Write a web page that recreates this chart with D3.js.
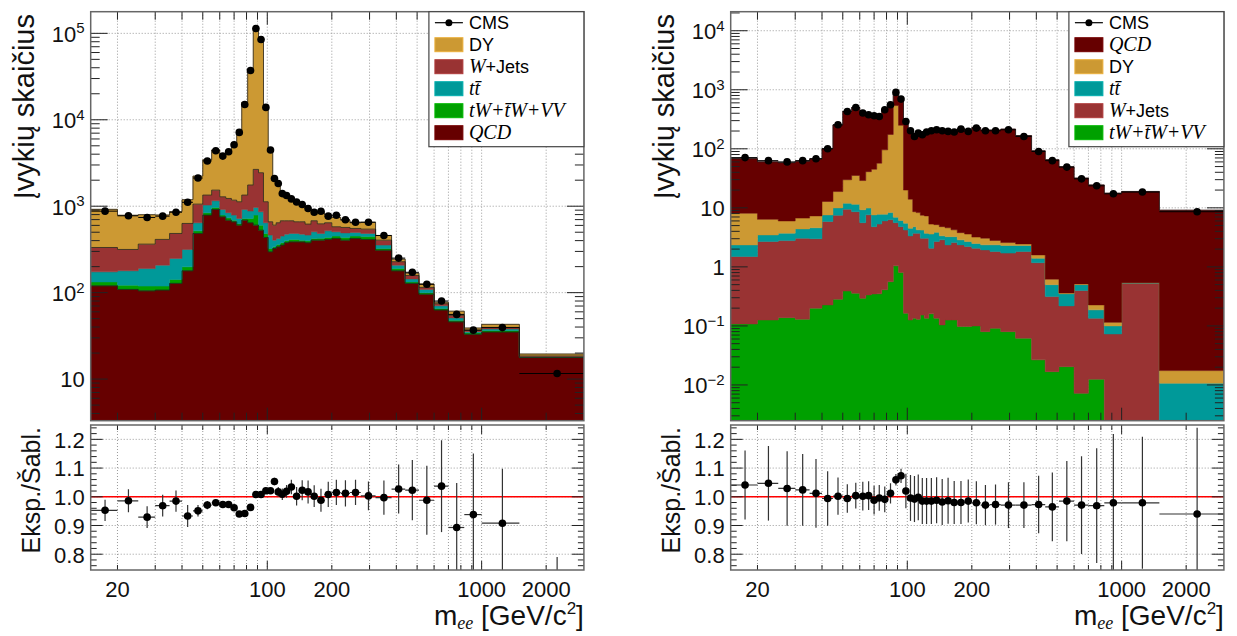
<!DOCTYPE html>
<html>
<head>
<meta charset="utf-8">
<script src="https://cdn.jsdelivr.net/npm/d3@7"></script>
<style>
  body { margin: 0; background: #fff; }
  text { font-family: "Liberation Sans", Arial, sans-serif; }
</style>
</head>
<body>
<div id="graph"></div>
<script>
// bin edges of m_ee [GeV/c^2]
var edges = [15,20,25,30,35,40,45,50,55,60,64,68,72,76,81,86,91,96,101,106,110,115,120,126,133,141,150,160,171,185,200,220,243,273,320,380,440,510,600,700,830,1000,1500,3000];

// ---- left plot
var leftQCD = [120,109,105,107,128,179,484,789,918,754, 690,660,604,690,643,604,528,435,297,324, 339,355,378,387,387,387,378,405,405,413, 424,405,424,413,310,179,128,96,63,46, 33,35,17.8];
var leftTW  = [13,13,14,12,14,20,35,52,50,35, 44,30,28,33,80,185,76,49,27,15, 22,23,20,26,26,18,20,19,20,22, 27,30,27,32,14,11,5,4,2.6,2, 1.3,1.5,0.2];
var leftTT  = [41,57,71,89,107,117,124,189,188,129, 107,99,91,195,156,179,257,159,139,66, 63,73,77,71,71,70,65,82,60,84, 55,56,47,39,31,18,11,9,4.9,3, 1.1,1.5,0.2];
var leftWJ  = [159,137,174,205,235,316,414,315,379,367, 389,386,402,427,879,1699,1576,482,197,199, 219,227,203,194,176,185,158,172,140,124, 72,77,55,59,50,20,14,6,4,3.6, 1.4,1.6,0.3];
var leftDY  = [587,470,434,379,381,558,1173,2095,2945,2620, 3160,4165,6475,14555,36742,110333,81863,12475,3720,1381, 1157,712,627,497,458,360,304,200,220,150, 165,122,90,108,54,16,10,11,3,6.4, 2.2,3.4,1.0];
var leftData = [877,775,741,767,852,1110,2120,3340,4390,3800, 4270,5140,7140,15000,37100,114000,85000,13900,4470,2090, 1830,1400,1330,1215,1120,1045,940,852,875,767, 787,696,653,653,458,251,172,125,80,56, 36.8,39.4,11.6];
var leftRatio = [0.953,0.986,0.929,0.969,0.985,0.933,0.951,0.971,0.979,0.973, 0.973,0.962,0.94,0.942,0.963,1.008,1.008,1.021,1.021,1.053, 1.017,1.009,1.019,1.034,1.002,1.023,1.017,1.002,0.988,1.008, 1.015,1.012,1.015,1.003,0.997,1.027,1.023,0.988,1.037,0.893, 0.938,0.908,0.61];
var leftRatioErr = [0.037,0.04,0.038,0.038,0.037,0.038,0.02,0.014,0.008,0.008, 0.008,0.008,0.008,0.008,0.008,0.006,0.006,0.006,0.006,0.013, 0.017,0.02,0.022,0.025,0.032,0.035,0.04,0.038,0.04,0.044, 0.044,0.046,0.044,0.05,0.06,0.085,0.105,0.12,0.16,0.155, 0.213,0.19,0.18];

// ---- right plot
var rightTW  = [0.108,0.126,0.138,0.13,0.2,0.227,0.283,0.39,0.358,0.294, 0.335,0.348,0.35,0.41,0.56,1.04,0.80,0.164,0.126,0.135, 0.13,0.153,0.135,0.16,0.135,0.104,0.126,0.126,0.098,0.098, 0.1,0.08,0.091,0.08,0.062,0.0266,0.0168,0.0204,0.0072,0.0125, 0,0,0];
var rightWJ  = [1.39,2.56,2.65,2.93,2.8,5.67,7.2,9.1,8.24,5.3, 7.27,4.45,4.95,5.6,5.74,4.56,4.0,4.04,3.22,3.57, 3.57,2.9,2.93,1.91,2.55,2.77,2.23,2.45,2.26,2.11, 1.97,1.86,1.73,1.63,1.76,1.15,0.297,0.198,0.39,0.1225, 0.073,0.53,0];
var rightTT  = [0.86,0.79,0.94,1.34,1.6,1.7,2.5,2.5,2.9,3.7, 2.3,2.8,2.5,1.8,2.0,1.35,1.3,1.3,1.15,1.1, 0.54,1.14,0.64,1.53,1.16,0.48,0.89,0.67,0.51,0.48, 0.43,0.42,0.54,0.59,0.48,0.22,0.186,0.132,0.103,0.052, 0.027,0.005,0.0107];
var rightDY  = [5.74,2.92,2.27,2.3,2.7,5.2,8.9,17.9,23.8,19.7, 31.1,37.4,49.2,88.2,166.7,533,244,14.5,9.5,3.8, 4.06,3.3,3.6,1.7,1.35,1.45,1.35,1.0,0.93,0.91, 0.7,0.7,0.44,0.28,0.15,0.2,0.12,0.01,0.015,0.04, 0.015,0.005,0.0068];
var rightQCD = [60.1,53.8,52.3,54.8,59.9,87.8,235,400,464,373, 334,322,297,366,375,312,398,264,189,154, 176,168,188,200,208,201,195,192,215,196, 226,205,205,213,165,91,64.7,49.3,31.4,24.2, 17.6,18.4,9.1];
var rightData = [71,63,60,63,68,100,255,428,501,403, 377,363,353,458,557,902,695,290,202,162, 184,173,192,202,210,202,197,192,215,197, 224,202,202,210,162,90,63,49,31,23.6, 17.3,18.5,8.6];
var rightRatio = [1.041,1.047,1.029,1.024,1.012,0.994,1.002,0.994,1.004,1.002, 1.004,0.988,0.996,0.991,1.012,1.059,1.073,1.02,0.996,0.992, 0.998,0.985,0.985,0.985,0.988,0.982,0.986,0.98,0.98,0.985, 0.979,0.971,0.973,0.971,0.971,0.973,0.965,0.985,0.971,0.969, 0.979,0.979,0.94];
var rightRatioErr = [0.12,0.13,0.13,0.125,0.12,0.095,0.065,0.05,0.045,0.05, 0.05,0.05,0.045,0.045,0.035,0.02,0.025,0.06,0.08,0.08, 0.08,0.08,0.08,0.08,0.08,0.08,0.08,0.075,0.075,0.075, 0.075,0.07,0.07,0.08,0.08,0.1,0.12,0.14,0.17,0.2, 0.24,0.23,0.3];

var xGrid = [20,30,40,50,60,70,80,90,100,200,300,400,500,600,700,800,900,1000,2000];
var xLabels = [20,100,200,1000,2000];
var ratioTicks = [0.8,0.9,1.0,1.1,1.2];

var colors = { DY: "#cc9933", WJ: "#993333", TT: "#009999", TW: "#00a000", QCD: "#660000" };

var w = 1237, h = 636;
var svg = d3.select("#graph").append("svg")
    .attr("width", w)
    .attr("height", h);

function legendLabel(g, key, x, y) {
  var t = g.append("text").attr("x", x).attr("y", y).attr("font-size", 18).attr("dy", "0.35em");
  var serif = "'Liberation Serif', 'Times New Roman', serif";
  if (key == "CMS") t.text("CMS");
  else if (key == "DY") t.text("DY");
  else if (key == "WJ") {
    t.append("tspan").style("font-family", serif).style("font-style", "italic").attr("font-size", 20).text("W");
    t.append("tspan").text("+Jets");
  } else if (key == "TT") {
    t.append("tspan").style("font-family", serif).style("font-style", "italic").attr("font-size", 20).text("t\u0074\u0304");
  } else if (key == "TW") {
    t.append("tspan").style("font-family", serif).style("font-style", "italic").attr("font-size", 20).text("tW+t\u0304W+VV");
  } else if (key == "QCD") {
    t.append("tspan").style("font-family", serif).style("font-style", "italic").attr("font-size", 20).text("QCD");
  }
}

function drawPanel(cfg, id) {
  var x0 = cfg.x0, x1 = cfg.x1;
  var top0 = 11.7, top1 = 420.7, rat0 = 425, rat1 = 570;

  var x = d3.scaleLog().domain([15, 3000]).range([x0, x1]);
  var y = d3.scaleLog().domain(cfg.yDomain).range([top1, top0]).clamp(true);
  var yr = d3.scaleLinear().domain([0.745, 1.25]).range([rat1, rat0]);
  var yv = function(v) { return v > 0 ? y(v) : top1; };

  var g = svg.append("g");

  // clip paths
  svg.append("clipPath").attr("id", "clipTop" + id)
    .append("rect").attr("x", x0).attr("y", top0).attr("width", x1 - x0).attr("height", top1 - top0);
  svg.append("clipPath").attr("id", "clipRat" + id)
    .append("rect").attr("x", x0).attr("y", rat0).attr("width", x1 - x0).attr("height", rat1 - rat0);

  // grid (under the fills)
  var grid = g.append("g").attr("stroke", "#9a9a9a").attr("stroke-width", 1).attr("stroke-dasharray", "1,2");
  xGrid.forEach(function(v) {
    grid.append("line").attr("x1", x(v)).attr("x2", x(v)).attr("y1", top0).attr("y2", top1);
    grid.append("line").attr("x1", x(v)).attr("x2", x(v)).attr("y1", rat0).attr("y2", rat1);
  });
  var eLo = Math.ceil(Math.log10(cfg.yDomain[0])), eHi = Math.floor(Math.log10(cfg.yDomain[1]));
  for (var e = eLo; e <= eHi; e++) {
    grid.append("line").attr("x1", x0).attr("x2", x1).attr("y1", y(Math.pow(10, e))).attr("y2", y(Math.pow(10, e)));
  }
  ratioTicks.forEach(function(v) {
    grid.append("line").attr("x1", x0).attr("x2", x1).attr("y1", yr(v)).attr("y2", yr(v));
  });

  // stacked histograms
  var rows = edges.slice(0, -1).map(function(lo, i) {
    var r = { lo: lo, hi: edges[i + 1] };
    cfg.order.forEach(function(k) { r[k] = cfg.comps[k][i]; });
    return r;
  });
  var series = d3.stack().keys(cfg.order)(rows);

  var area = d3.area()
    .curve(d3.curveStepAfter)
    .x(function(d) { return x(d.x); })
    .y0(function(d) { return yv(d.y0); })
    .y1(function(d) { return yv(d.y1); });
  var topLine = d3.line()
    .curve(d3.curveStepAfter)
    .x(function(d) { return x(d.x); })
    .y(function(d) { return yv(d.y1); });

  var hist = g.append("g").attr("clip-path", "url(#clipTop" + id + ")");
  series.forEach(function(s) {
    var pts = s.map(function(d) { return { x: d.data.lo, y0: d[0], y1: d[1] }; });
    var last = pts[pts.length - 1];
    pts.push({ x: 3000, y0: last.y0, y1: last.y1 });
    hist.append("path").datum(pts)
      .attr("d", area)
      .attr("fill", colors[s.key])
      .attr("stroke", colors[s.key])
      .attr("stroke-width", 0.5);
    s.pts = pts;
  });
  series.forEach(function(s, i) {
    if (cfg.outline.indexOf(s.key) < 0) return;
    hist.append("path").datum(s.pts)
      .attr("d", topLine)
      .attr("fill", "none")
      .attr("stroke", "#1a1a1a")
      .attr("stroke-opacity", 0.75)
      .attr("stroke-width", 1);
  });

  // data points (top)
  var pts = edges.slice(0, -1).map(function(lo, i) {
    return { lo: lo, hi: edges[i + 1], c: (lo + edges[i + 1]) / 2, v: cfg.data[i], r: cfg.ratio[i], e: cfg.ratioErr[i] };
  });
  var dp = g.append("g").attr("clip-path", "url(#clipTop" + id + ")");
  dp.selectAll(".hbar").data(pts).enter().append("line")
    .attr("x1", function(d) { return x(d.lo); })
    .attr("x2", function(d) { return x(d.hi); })
    .attr("y1", function(d) { return y(d.v); })
    .attr("y2", function(d) { return y(d.v); })
    .attr("stroke", "#000").attr("stroke-width", 1);
  dp.selectAll(".dot").data(pts).enter().append("circle")
    .attr("cx", function(d) { return x(d.c); })
    .attr("cy", function(d) { return y(d.v); })
    .attr("r", 3.8)
    .attr("fill", "#000");

  // ratio panel
  var rp = g.append("g").attr("clip-path", "url(#clipRat" + id + ")");
  rp.append("line").attr("x1", x0).attr("x2", x1).attr("y1", yr(1)).attr("y2", yr(1))
    .attr("stroke", "#ff0000").attr("stroke-width", 1.6);
  rp.selectAll(".rh").data(pts).enter().append("line")
    .attr("x1", function(d) { return x(d.lo); })
    .attr("x2", function(d) { return x(d.hi); })
    .attr("y1", function(d) { return yr(d.r); })
    .attr("y2", function(d) { return yr(d.r); })
    .attr("stroke", "#333").attr("stroke-width", 1.2);
  rp.selectAll(".rv").data(pts).enter().append("line")
    .attr("x1", function(d) { return x(d.c); })
    .attr("x2", function(d) { return x(d.c); })
    .attr("y1", function(d) { return yr(d.r - d.e); })
    .attr("y2", function(d) { return yr(d.r + d.e); })
    .attr("stroke", "#333").attr("stroke-width", 1.2);
  rp.selectAll(".rd").data(pts).enter().append("circle")
    .attr("cx", function(d) { return x(d.c); })
    .attr("cy", function(d) { return yr(d.r); })
    .attr("r", 3.8)
    .attr("fill", "#000");

  // ticks
  var tk = g.append("g").attr("stroke", "#222").attr("stroke-width", 1);
  for (var e2 = Math.floor(Math.log10(cfg.yDomain[0])); e2 <= eHi; e2++) {
    for (var k = 1; k <= 9; k++) {
      var v = k * Math.pow(10, e2);
      if (v < cfg.yDomain[0] || v > cfg.yDomain[1]) continue;
      var len = k == 1 ? 17 : 9;
      tk.append("line").attr("x1", x0).attr("x2", x0 + len).attr("y1", y(v)).attr("y2", y(v));
      tk.append("line").attr("x1", x1).attr("x2", x1 - len).attr("y1", y(v)).attr("y2", y(v));
    }
  }
  xGrid.forEach(function(v) {
    var len = (v == 100 || v == 1000) ? 13 : 8;
    tk.append("line").attr("x1", x(v)).attr("x2", x(v)).attr("y1", top1).attr("y2", top1 - len);
    tk.append("line").attr("x1", x(v)).attr("x2", x(v)).attr("y1", top0).attr("y2", top0 + len);
    var lr = (v == 100 || v == 1000) ? 9 : 5;
    tk.append("line").attr("x1", x(v)).attr("x2", x(v)).attr("y1", rat1).attr("y2", rat1 - lr);
    tk.append("line").attr("x1", x(v)).attr("x2", x(v)).attr("y1", rat0).attr("y2", rat0 + lr);
  });
  for (var r = 0.76; r <= 1.241; r += 0.02) {
    var major = Math.abs(Math.round(r * 10) - r * 10) < 1e-6;
    var l2 = major ? 12 : 6;
    tk.append("line").attr("x1", x0).attr("x2", x0 + l2).attr("y1", yr(r)).attr("y2", yr(r));
    tk.append("line").attr("x1", x1).attr("x2", x1 - l2).attr("y1", yr(r)).attr("y2", yr(r));
  }

  // frames
  g.append("rect").attr("x", x0).attr("y", top0).attr("width", x1 - x0).attr("height", top1 - top0)
    .attr("fill", "none").attr("stroke", "#666").attr("stroke-width", 1.5);
  g.append("rect").attr("x", x0).attr("y", rat0).attr("width", x1 - x0).attr("height", rat1 - rat0)
    .attr("fill", "none").attr("stroke", "#666").attr("stroke-width", 1.5);

  // y tick labels (top)
  for (var e3 = eLo; e3 <= eHi; e3++) {
    var t = g.append("text").attr("x", x0 - 6).attr("y", y(Math.pow(10, e3))).attr("dy", "0.38em")
      .attr("text-anchor", "end").attr("font-size", 22).attr("fill", "#111");
    if (e3 == 0) t.text("1");
    else if (e3 == 1) t.text("10");
    else {
      t.append("tspan").text("10");
      t.append("tspan").attr("dy", "-0.55em").attr("font-size", 15).text(e3 < 0 ? "\u2212" + (-e3) : e3);
    }
  }
  // ratio labels
  ratioTicks.forEach(function(v) {
    g.append("text").attr("x", x0 - 6).attr("y", yr(v)).attr("dy", "0.38em")
      .attr("text-anchor", "end").attr("font-size", 22).attr("fill", "#111")
      .text(d3.format(".1f")(v));
  });
  // x labels
  xLabels.forEach(function(v) {
    g.append("text").attr("x", x(v)).attr("y", 597).attr("text-anchor", "middle")
      .attr("font-size", 22).attr("fill", "#111").text(v);
  });

  // axis titles
  g.append("text").attr("transform", "translate(" + (x0 - 57) + "," + 14 + ") rotate(-90)")
    .attr("text-anchor", "end").attr("font-size", 29).attr("fill", "#111").text("Įvykių skaičius");
  g.append("text").attr("transform", "translate(" + (x0 - 51) + "," + 427 + ") rotate(-90)")
    .attr("text-anchor", "end").attr("font-size", 25).attr("fill", "#111").text("Eksp./Šabl.");
  var xt = g.append("text").attr("x", x1).attr("y", 625).attr("text-anchor", "end")
    .attr("font-size", 28).attr("fill", "#111");
  xt.append("tspan").text("m");
  xt.append("tspan").attr("dy", 4).attr("font-size", 18)
    .style("font-family", "'Liberation Serif', serif").style("font-style", "italic").text("ee");
  xt.append("tspan").attr("dy", -4).text(" [GeV/c");
  xt.append("tspan").attr("dy", -11).attr("font-size", 17).text("2");
  xt.append("tspan").attr("dy", 11).text("]");

  // legend
  var lx0 = x1 - 155, ly0 = top0, lw = 155, lh = 135;
  var lg = g.append("g");
  lg.append("rect").attr("x", lx0).attr("y", ly0).attr("width", lw).attr("height", lh)
    .attr("fill", "#fff").attr("stroke", "#444").attr("stroke-width", 1.2);
  var keys = ["CMS"].concat(cfg.legend);
  keys.forEach(function(k, i) {
    var cy = ly0 + 11 + i * 22;
    if (k == "CMS") {
      lg.append("line").attr("x1", lx0 + 6).attr("x2", lx0 + 34).attr("y1", cy).attr("y2", cy)
        .attr("stroke", "#000").attr("stroke-width", 1.2);
      lg.append("circle").attr("cx", lx0 + 20).attr("cy", cy).attr("r", 3.5).attr("fill", "#000");
    } else {
      lg.append("rect").attr("x", lx0 + 6).attr("y", cy - 7).attr("width", 28).attr("height", 14)
        .attr("fill", colors[k]).attr("stroke", d3.color(colors[k]).brighter(0.4)).attr("stroke-width", 1);
    }
    legendLabel(lg, k, lx0 + 40, cy);
  });
}

drawPanel({
  x0: 90.7, x1: 583.9,
  yDomain: [3.3, 1.78e5],
  order: ["QCD", "TW", "TT", "WJ", "DY"],
  comps: { QCD: leftQCD, TW: leftTW, TT: leftTT, WJ: leftWJ, DY: leftDY },
  outline: ["QCD", "WJ", "DY"],
  data: leftData, ratio: leftRatio, ratioErr: leftRatioErr,
  legend: ["DY", "WJ", "TT", "TW", "QCD"]
}, "L");

drawPanel({
  x0: 730.7, x1: 1223.9,
  yDomain: [0.00248, 2.1e4],
  order: ["TW", "WJ", "TT", "DY", "QCD"],
  comps: { QCD: rightQCD, TW: rightTW, TT: rightTT, WJ: rightWJ, DY: rightDY },
  outline: ["QCD"],
  data: rightData, ratio: rightRatio, ratioErr: rightRatioErr,
  legend: ["QCD", "DY", "TT", "WJ", "TW"]
}, "R");
</script>
</body>
</html>
